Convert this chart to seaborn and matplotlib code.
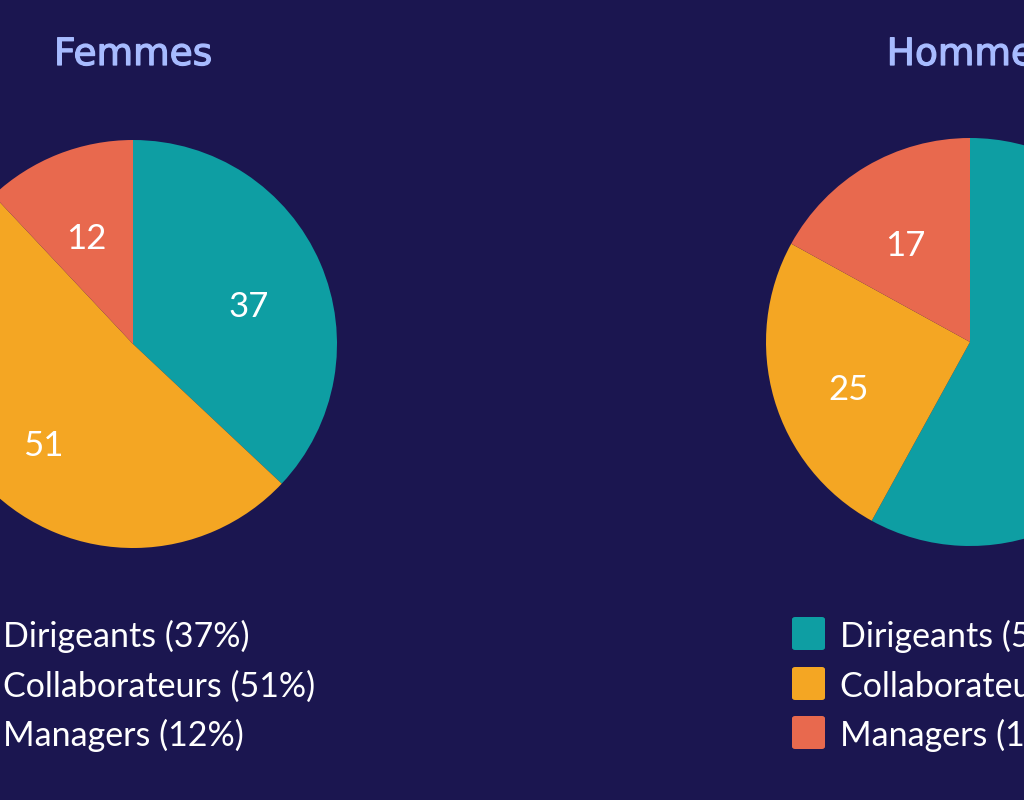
import matplotlib
matplotlib.use("Agg")
import matplotlib.pyplot as plt
import matplotlib.patheffects as pe
import seaborn as sns
from matplotlib.patches import FancyBboxPatch
from matplotlib.transforms import offset_copy

# ---- data ----
categories = ["Dirigeants", "Collaborateurs", "Managers"]
femmes_values = [37, 51, 12]
hommes_values = [58, 25, 17]
group_titles = ["Femmes", "Hommes"]
colors = ["#0e9ea3", "#f4a623", "#e8694e"]

BG = "#1b1650"
TITLE_COLOR = "#a7bbff"

sns.set_theme(style="white")
plt.rcParams["font.family"] = ["Lato", "DejaVu Sans"]

W, H = 1024, 800
fig = plt.figure(figsize=(W / 100, H / 100), dpi=100)
fig.patch.set_facecolor(BG)

R = 204  # pie radius in px
centers = [(133, 344), (970, 342)]
datasets = [femmes_values, hommes_values]

for (cx, cy), vals, title in zip(centers, datasets, group_titles):
    left = (cx - R) / W
    bottom = (H - cy - R) / H
    ax = fig.add_axes([left, bottom, 2 * R / W, 2 * R / H])
    ax.set_facecolor(BG)
    wedges, texts = ax.pie(
        vals,
        labels=[str(v) for v in vals],
        colors=colors,
        startangle=90,
        counterclock=False,
        labeldistance=0.62,
        wedgeprops=dict(linewidth=0),
        textprops=dict(color="white", fontsize=25, family=["Lato", "DejaVu Sans"],
                       ha="center", va="center"),
    )
    for t in texts:
        t.set_transform(offset_copy(ax.transData, fig=fig, x=0, y=-13, units="dots"))
    ax.set_xlim(-1, 1)
    ax.set_ylim(-1, 1)
    ax.set_aspect("equal")
    ax.axis("off")

    # title
    fig.text(cx / W, (H - 65) / H, title, ha="center", va="baseline",
             color=TITLE_COLOR, fontsize=27, family=["DejaVu Sans"],
             fontweight="normal",
             path_effects=[pe.withStroke(linewidth=0.9, foreground=TITLE_COLOR)])

    # legend
    sq = 33
    sq_left = cx - 178
    row_tops = [617, 667, 716]
    total = sum(vals)
    for cat, v, col, top in zip(categories, vals, colors, row_tops):
        patch = FancyBboxPatch(
            (sq_left / W, (H - top - sq) / H), sq / W, sq / H,
            boxstyle="round,pad=0,rounding_size=0.003",
            transform=fig.transFigure, facecolor=col, edgecolor="none",
        )
        fig.patches.append(patch)
        pct = round(100 * v / total)
        fig.text((sq_left + 48) / W, (H - top - sq / 2) / H,
                 f"{cat} ({pct}%)", ha="left", va="center_baseline",
                 color="white", fontsize=24.5, family=["Lato", "DejaVu Sans"])

fig.savefig("out.png", dpi=100, facecolor=BG)
